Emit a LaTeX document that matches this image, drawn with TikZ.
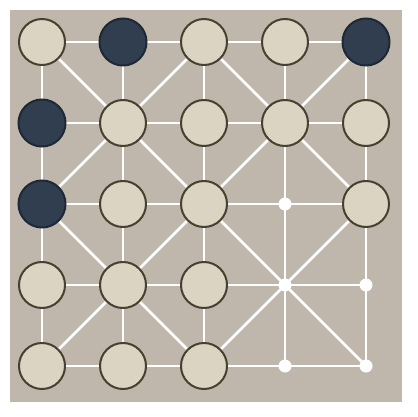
\documentclass[tikz,border=0pt]{standalone}
\usetikzlibrary{positioning}
\definecolor{boardbg}{HTML}{BFB7AB}
\definecolor{lightfill}{HTML}{DBD4C2}
\definecolor{lightedge}{HTML}{45402F}
\definecolor{darkfill}{HTML}{303E50}
\definecolor{darkedge}{HTML}{1E2836}
\begin{document}
\begin{tikzpicture}[x=1pt,y=-1pt,
   line/.style={white,line width=2.5pt},
   lightpiece/.style={circle,draw=lightedge,fill=lightfill,line width=2pt,minimum size=46pt,inner sep=0pt},
   darkpiece/.style={circle,draw=darkedge,fill=darkfill,line width=2pt,minimum size=47pt,inner sep=0pt},
   spot/.style={circle,fill=white,minimum size=13pt,inner sep=0pt}]
   \useasboundingbox (0,0) rectangle (417,417);
   \fill[boardbg] (10,10) rectangle (402,402);
   % grid points
   \foreach \i in {0,...,4}
     \foreach \j in {0,...,4}
       \coordinate (c-\i-\j) at (42+81*\i,42+81*\j);
   % lines
   \foreach \i in {0,...,4} {
     \draw[line] (c-\i-0) -- (c-\i-4);
     \draw[line] (c-0-\i) -- (c-4-\i);
   }
   \draw[line] (c-0-0) -- (c-4-4);
   \draw[line] (c-4-0) -- (c-0-4);
   \draw[line] (c-2-0) -- (c-0-2) -- (c-2-4) -- (c-4-2) -- cycle;
   % pieces
   \foreach \i/\j/\s in {0/0/lightpiece, 1/0/darkpiece, 2/0/lightpiece, 3/0/lightpiece, 4/0/darkpiece,
                         0/1/darkpiece, 1/1/lightpiece, 2/1/lightpiece, 3/1/lightpiece, 4/1/lightpiece,
                         0/2/darkpiece, 1/2/lightpiece, 2/2/lightpiece, 3/2/spot, 4/2/lightpiece,
                         0/3/lightpiece, 1/3/lightpiece, 2/3/lightpiece, 3/3/spot, 4/3/spot,
                         0/4/lightpiece, 1/4/lightpiece, 2/4/lightpiece, 3/4/spot, 4/4/spot}
     \node[\s] (p-\i-\j) at (c-\i-\j) {};
\end{tikzpicture}
\end{document}
